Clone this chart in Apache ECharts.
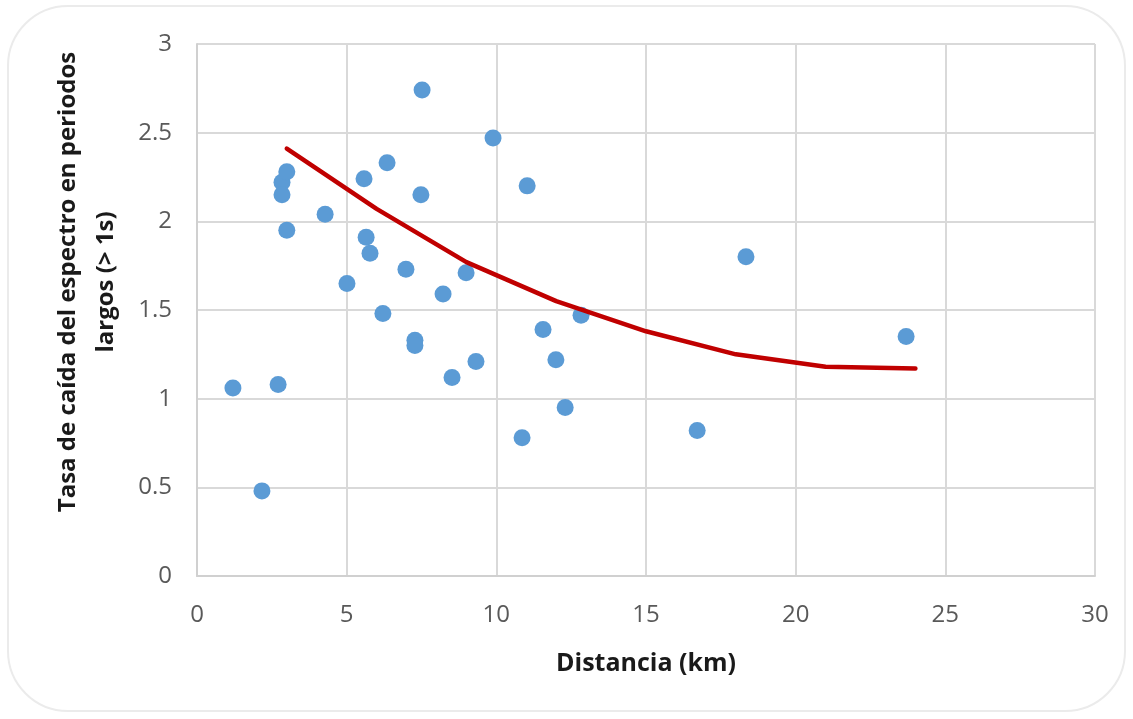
<!DOCTYPE html>
<html>
<head>
<meta charset="utf-8">
<script src="https://cdn.jsdelivr.net/npm/echarts@6/dist/echarts.min.js"></script>
<style>
  html, body { margin: 0; padding: 0; background: #ffffff; }
  #chart { width: 1133px; height: 719px; }
</style>
</head>
<body>
<div id="chart"></div>
<script>
// observed points: distance (km) and decay rate
const distanceKm = [1.2, 2.17, 2.71, 2.84, 2.84, 3.0, 3.0, 4.28, 5.01, 5.58, 5.65, 5.78, 6.21, 6.35, 6.98,
  7.28, 7.28, 7.48, 7.52, 8.22, 8.52, 8.99, 9.32, 9.89, 10.86, 11.03, 11.56, 11.99, 12.3, 12.83,
  16.71, 18.34, 23.69];
const decayRate = [1.06, 0.48, 1.08, 2.22, 2.15, 2.28, 1.95, 2.04, 1.65, 2.24, 1.91, 1.82, 1.48, 2.33, 1.73,
  1.33, 1.30, 2.15, 2.74, 1.59, 1.12, 1.71, 1.21, 2.47, 0.78, 2.20, 1.39, 1.22, 0.95, 1.47,
  0.82, 1.80, 1.35];

// fitted curve
const fitDistance = [3, 6, 9, 12, 15, 18, 21, 24];
const fitRate = [2.41, 2.07, 1.77, 1.55, 1.38, 1.25, 1.18, 1.17];

const xTitle = "Distancia (km)";
const yTitle = "Tasa de caída del espectro en periodos\nlargos (> 1s)";

const chart = echarts.init(document.getElementById("chart"), null, { renderer: "canvas" });

chart.setOption({
  animation: false,
  backgroundColor: "#ffffff",
  textStyle: { fontFamily: "Open Sans" },
  grid: { left: 197, right: 38, top: 44, bottom: 143 },
  graphic: [
    {
      type: "rect",
      shape: { x: 8, y: 6, width: 1117, height: 705, r: 60 },
      style: { fill: "none", stroke: "#ebebeb", lineWidth: 2 },
      silent: true,
      z: -1
    },
    {
      type: "text",
      x: 87,
      y: 282,
      rotation: Math.PI / 2,
      style: {
        text: yTitle,
        font: "bold 24px 'Open Sans'",
        fill: "#1a1a1a",
        align: "center",
        verticalAlign: "middle",
        lineHeight: 38
      }
    }
  ],
  xAxis: {
    type: "value",
    min: 0,
    max: 30,
    interval: 5,
    name: xTitle,
    nameLocation: "middle",
    nameGap: 75,
    nameTextStyle: { fontSize: 25, fontWeight: "bold", color: "#1a1a1a", fontFamily: "Open Sans" },
    axisLine: { lineStyle: { color: "#d0d0d0", width: 2 } },
    axisTick: { show: false },
    axisLabel: { color: "#595959", fontSize: 24, margin: 27 },
    splitLine: { lineStyle: { color: "#d9d9d9", width: 2 } }
  },
  yAxis: {
    type: "value",
    min: 0,
    max: 3,
    interval: 0.5,
    axisLine: { show: true, lineStyle: { color: "#d0d0d0", width: 2 } },
    axisTick: { show: false },
    axisLabel: { color: "#595959", fontSize: 24, margin: 25 },
    splitLine: { lineStyle: { color: "#d9d9d9", width: 2 } }
  },
  series: [
    {
      type: "scatter",
      symbolSize: 17,
      itemStyle: { color: "#5b9bd5", opacity: 1 },
      data: distanceKm.map((d, i) => [d, decayRate[i]]),
      z: 2
    },
    {
      type: "line",
      showSymbol: false,
      smooth: false,
      lineStyle: { color: "#c00000", width: 4.5, cap: "round", join: "round" },
      data: fitDistance.map((d, i) => [d, fitRate[i]]),
      z: 3
    }
  ]
});
</script>
</body>
</html>
